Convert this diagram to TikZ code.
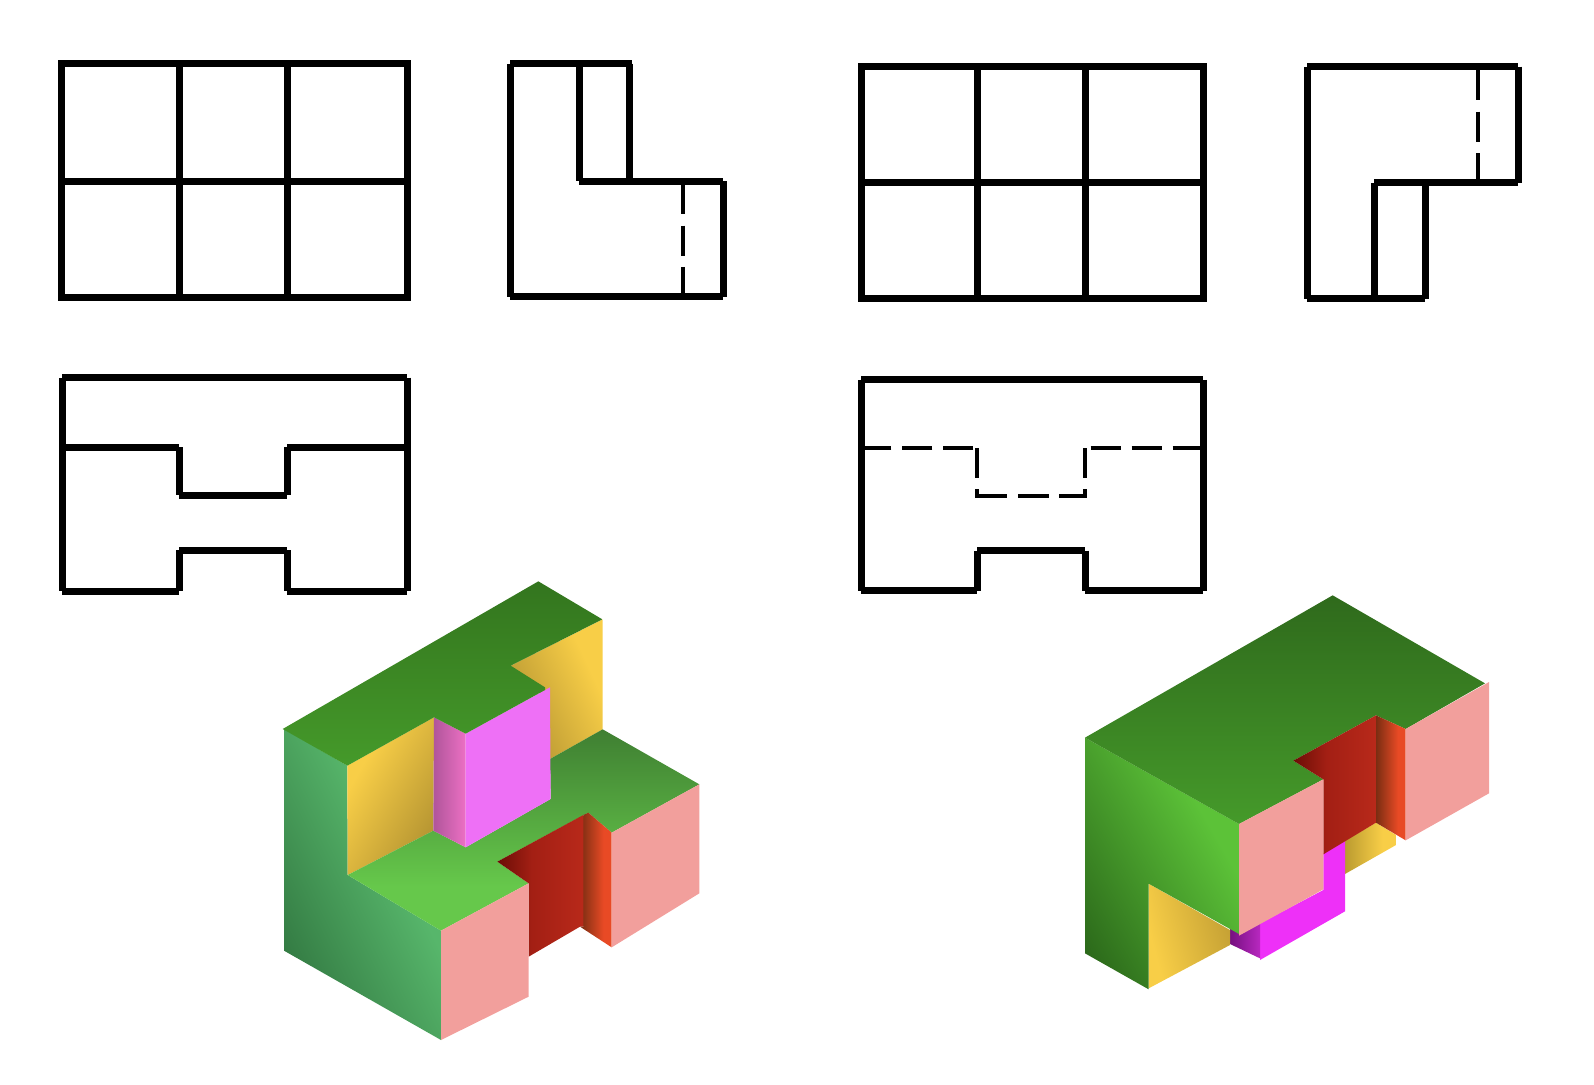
\documentclass[tikz,border=0pt]{standalone}
\usepackage{tikz}
\definecolor{pinkf}{HTML}{F29F9C}
\definecolor{magf}{HTML}{EE70F6}
\definecolor{magg}{HTML}{EE30F8}
\definecolor{gLa}{RGB}{48,117,63}
\definecolor{gLb}{RGB}{87,182,107}
\definecolor{gRa}{RGB}{43,104,26}
\definecolor{gRb}{RGB}{92,194,56}
\definecolor{yDk}{RGB}{176,144,48}
\definecolor{yLt}{RGB}{248,206,71}
\definecolor{yHd}{RGB}{184,153,47}
\definecolor{yRd}{RGB}{196,160,52}
\definecolor{rA}{RGB}{107,14,6}
\definecolor{rB}{RGB}{163,31,20}
\definecolor{rC}{RGB}{184,41,26}
\definecolor{oA}{RGB}{122,45,18}
\definecolor{oB}{RGB}{232,74,37}
\definecolor{mA}{RGB}{176,85,154}
\definecolor{mB}{RGB}{236,112,196}
\definecolor{mC}{RGB}{118,16,128}
\definecolor{mD}{RGB}{184,40,192}
\definecolor{tA}{RGB}{51,117,30}
\definecolor{tB}{RGB}{69,154,42}
\definecolor{tC}{RGB}{47,106,28}
\definecolor{mdA}{RGB}{63,127,50}
\definecolor{mdB}{RGB}{102,200,75}
% all shadings: 25bp..75bp = bounding box edge to edge
\pgfdeclareverticalshading{lgreenL}{100bp}{color(0bp)=(gLa);color(22bp)=(gLa);color(60bp)=(gLb);color(100bp)=(gLb)}
\pgfdeclareverticalshading{lgreenR}{100bp}{color(0bp)=(gRa);color(20bp)=(gRa);color(66bp)=(gRb);color(100bp)=(gRb)}
\pgfdeclareverticalshading{yellowg}{100bp}{color(0bp)=(yDk);color(22bp)=(yDk);color(68bp)=(yLt);color(100bp)=(yLt)}
\pgfdeclareverticalshading{yellowr}{100bp}{color(0bp)=(yRd);color(25bp)=(yRd);color(72bp)=(yLt);color(100bp)=(yLt)}
\pgfdeclareverticalshading{midg}{100bp}{color(0bp)=(mdB);color(36bp)=(mdB);color(75bp)=(mdA);color(100bp)=(mdA)}
\pgfdeclarehorizontalshading{redgL}{100bp}{color(0bp)=(rA);color(25bp)=(rA);color(45bp)=(rB);color(75bp)=(rC);color(100bp)=(rC)}
\pgfdeclarehorizontalshading{orangeg}{100bp}{color(0bp)=(oA);color(25bp)=(oA);color(62bp)=(oB);color(100bp)=(oB)}
\pgfdeclarehorizontalshading{yellowh}{100bp}{color(0bp)=(yHd);color(25bp)=(yHd);color(62bp)=(yLt);color(100bp)=(yLt)}
\pgfdeclarehorizontalshading{magh}{100bp}{color(0bp)=(mA);color(25bp)=(mA);color(75bp)=(mB);color(100bp)=(mB)}
\pgfdeclarehorizontalshading{magd}{100bp}{color(0bp)=(mC);color(25bp)=(mC);color(75bp)=(mD);color(100bp)=(mD)}
\tikzset{
  ln/.style={line width=7pt,line cap=butt,black},
  dl/.style={line width=4.4pt,line cap=butt,black},
  face/.style={draw=none},
}
\begin{document}
\begin{tikzpicture}[x=1pt,y=-1pt]
\useasboundingbox (0,0) rectangle (1594,1084);
% ---------- view 1
\draw[ln] (61.7,63.7) rectangle (407,297);
\draw[ln] (179,63.7)--(179,297) (287,63.7)--(287,297) (61.7,181)--(407,181);
% ---------- view 2
\draw[ln] (510,63.7)--(510,297) (510,63.7)--(632,63.7) (579,63.7)--(579,181) (629,63.7)--(629,181)
 (579,181)--(723,181) (723,181)--(723,297) (510,296.7)--(723,296.7);
\draw[dl,dash pattern=on 30pt off 11.3pt] (683,184.3)--(683,293.5);
% ---------- view 3
\draw[ln] (861,66.7) rectangle (1203,298.7);
\draw[ln] (977,66.7)--(977,298.7) (1085,66.7)--(1085,298.7) (861,182.7)--(1203,182.7);
% ---------- view 4
\draw[ln] (1307,66.7)--(1307,298.7) (1307,66.7)--(1518,66.7) (1518,66.7)--(1518,182.8) (1374,182.8)--(1518,182.8)
 (1374,182.8)--(1374,298.7) (1425,182.8)--(1425,298.7) (1307,298.7)--(1425,298.7);
\draw[dl,dash pattern=on 30pt off 11.5pt] (1478,70)--(1478,179.7);
% ---------- view 5
\draw[ln] (62.3,377.7)--(62.3,591) (407,377.7)--(407,591) (62,377.7)--(407,377.7)
 (62.3,447)--(179.3,447) (179.3,447)--(179.3,495) (179.3,495)--(287.3,495) (287.3,495)--(287.3,447) (287.3,447)--(407,447)
 (62.3,591)--(179.3,591) (179.3,591)--(179.3,550) (179.3,550)--(287.3,550) (287.3,550)--(287.3,591) (287.3,591)--(407,591);
% ---------- view 6
\draw[ln] (861,379.8)--(861,590.7) (1203,379.8)--(1203,590.7) (861,379.8)--(1203,379.8)
 (861,590.7)--(977,590.7) (977,590.7)--(977,550.7) (977,550.7)--(1085,550.7) (1085,550.7)--(1085,590.7) (1085,590.7)--(1203,590.7);
\draw[dl,dash pattern=on 30pt off 11pt] (973.3,447.7)--(864,447.7);
\draw[dl,dash pattern=on 30pt off 11pt] (1090.7,447.7)--(1200,447.7);
\draw[dl,dash pattern=on 29.4pt off 11.3pt] (977,448.3)--(977,497.7);
\draw[dl,dash pattern=on 29.4pt off 11.3pt] (1085,448.3)--(1085,497.7);
\draw[dl,dash pattern=on 31pt off 11.3pt on 30.7pt off 10.6pt on 27.4pt off 10pt] (975.7,495.7)--(1087,495.7);
% ---------- left solid
\begin{scope}[shift={(260,560)},x=0.33333pt,y=-0.33333pt]
\path[face,shading=yellowg,shading angle=-65] (752,317)--(1028,178)--(1028,508)--(870,597)--(840,400)--cycle;
\path[face,shading=lgreenL,shading angle=-64] (72,507)--(262,617)--(263,945)--(543,1112)--(543,1440)--(72,1172)--cycle;
\path[face,shading=yellowg,shading angle=60] (262,617)--(522,472)--(520,812)--(263,945)--cycle;
\path[face,shading=midg]
  (263,945)--(520,812)--(617,862)--(872,717)--(870,597)--(1028,508)--(1318,673)--(1055,818)--(985,758)--(712,905)--(806,970)--(543,1112)--cycle;
\path[face,shading=magh] (522,472)--(617,521)--(617,862)--(520,812)--cycle;
\path[face,fill=magf] (617,521)--(870,382)--(872,717)--(617,862)--cycle;
\path[face,top color=tA,bottom color=tB]
  (68,507)--(835,64)--(1027,178)--(752,317)--(855,382)--(855,390)--(617,521)--(522,472)--(262,617)--cycle;
\path[face,shading=redgL] (712,905)--(970,765)--(970,1100)--(960,1100)--(806,1190)--(806,970)--cycle;
\path[face,shading=orangeg] (970,765)--(985,758)--(1055,818)--(1055,1162)--(960,1100)--(970,1100)--cycle;
\path[face,fill=pinkf] (543,1112)--(806,970)--(806,1310)--(543,1440)--cycle;
\path[face,fill=pinkf] (1055,818)--(1318,673)--(1318,1000)--(1055,1162)--cycle;
\end{scope}
% ---------- right solid
\begin{scope}[shift={(1050,570)},x=0.33333pt,y=-0.33333pt]
\path[face,shading=yellowh] (880,815)--(978,758)--(1038,795)--(1038,825)--(885,912)--cycle;
\path[face,fill=magg] (820,850)--(885,812)--(885,1024)--(630,1170)--(630,1060)--(820,960)--cycle;
\path[face,shading=magd] (540,1075)--(630,1060)--(630,1165)--(540,1122)--cycle;
\path[face,shading=yellowr,shading angle=105] (296,941)--(540,1080)--(540,1125)--(296,1255)--cycle;
\path[face,shading=lgreenR,shading angle=-60] (105,503)--(567,762)--(567,1092)--(296,941)--(296,1258)--(105,1150)--cycle;
\path[face,top color=tC,bottom color=tB]
  (105,503)--(848,76)--(1305,340)--(1067,477)--(978,436)--(730,572)--(820,628)--(567,762)--cycle;
\path[face,shading=redgL] (730,572)--(978,436)--(978,758)--(820,853)--(820,628)--cycle;
\path[face,shading=orangeg] (978,436)--(1067,477)--(1067,811)--(978,758)--cycle;
\path[face,fill=pinkf] (567,762)--(820,628)--(820,958)--(567,1097)--cycle;
\path[face,fill=pinkf] (1067,477)--(1317,336)--(1317,670)--(1067,811)--cycle;
\end{scope}
\end{tikzpicture}
\end{document}
